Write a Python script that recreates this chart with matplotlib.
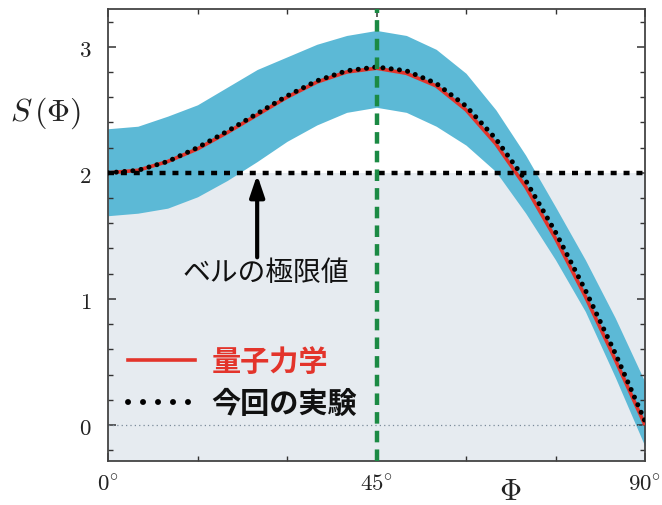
import matplotlib
matplotlib.use("Agg")
import matplotlib.pyplot as plt
from matplotlib.lines import Line2D

plt.rcParams['font.family'] = ['Noto Sans CJK JP', 'DejaVu Sans']
plt.rcParams['mathtext.fontset'] = 'cm'

# ---- data ----
phi = [0, 5, 10, 15, 20, 25, 30, 35, 40, 45, 50, 55, 60, 65, 70, 75, 80, 85, 90]
s_quantum = [2.00, 2.02, 2.09, 2.19, 2.32, 2.46, 2.60, 2.72, 2.80, 2.83, 2.79, 2.69,
             2.50, 2.23, 1.89, 1.48, 1.02, 0.52, 0.00]
s_experiment = [2.00, 2.02, 2.09, 2.20, 2.33, 2.47, 2.61, 2.73, 2.81, 2.84, 2.81, 2.71,
                2.53, 2.27, 1.94, 1.53, 1.07, 0.57, 0.03]
band_upper = [2.35, 2.37, 2.45, 2.54, 2.68, 2.82, 2.92, 3.02, 3.09, 3.13, 3.09, 2.98,
              2.79, 2.50, 2.14, 1.73, 1.31, 0.85, 0.34]
band_lower = [1.66, 1.68, 1.72, 1.81, 1.94, 2.09, 2.25, 2.38, 2.48, 2.52, 2.48, 2.37,
              2.22, 2.01, 1.68, 1.31, 0.90, 0.38, -0.17]
bell_limit = 2.0
max_angle = 45
xticks = [0, 45, 90]
xtick_labels = [r'$0^{\circ}$', r'$45^{\circ}$', r'$90^{\circ}$']
yticks = [0, 1, 2, 3]
ytick_labels = [r'$0$', r'$1$', r'$2$', r'$3$']
label_qm = '量子力学'
label_exp = '今回の実験'
bell_text = 'ベルの極限値'

# ---- styling ----
c_band = '#5cb9d6'
c_fill = '#e6ebf0'
c_red = '#e3342b'
c_green = '#1b8a44'

fig = plt.figure(figsize=(6.62, 5.06), dpi=100)
ax = fig.add_axes([108/662, 1-462/506, (645-108)/662, (462-10)/506])
ymin, ymax = -0.286, 3.30
ax.set_xlim(0, 90)
ax.set_ylim(ymin, ymax)

ax.axhspan(ymin, bell_limit, color=c_fill, zorder=0, lw=0)
ax.fill_between(phi, band_lower, band_upper, color=c_band, lw=0, zorder=1)
ax.axhline(0, color='#7a8a99', lw=0.9, ls=(0, (1, 2.5)), zorder=2)
ax.plot(phi, s_quantum, color=c_red, lw=2.6, zorder=3, solid_capstyle='butt')
ax.plot(phi, s_experiment, color='black', lw=3.6, ls=(0, (0.01, 1.65)),
        dash_capstyle='round', zorder=4)
ax.axhline(bell_limit, color='black', lw=3.2, ls=(0, (1.35, 1.55)), zorder=5)
ax.axvline(max_angle, color=c_green, lw=3.2, ls=(0, (2.6, 1.6)), zorder=6)

ax.annotate('', xy=(25, 1.985), xytext=(25, 1.33),
            arrowprops=dict(arrowstyle='-|>,head_length=0.65,head_width=0.22',
                            lw=3, color='black', mutation_scale=20, shrinkA=0, shrinkB=0),
            zorder=7)
ax.text(26.5, 1.21, bell_text, ha='center', va='center', fontsize=20, color='#111111')

handles = [Line2D([], [], color=c_red, lw=2.6),
           Line2D([], [], color='black', lw=4.3, ls=(0, (0.01, 2.5)), dash_capstyle='round')]
leg = ax.legend(handles, [label_qm, label_exp], loc='upper left',
                bbox_to_anchor=(0.038, 0.254), frameon=False, borderpad=0, borderaxespad=0,
                handlelength=2.3, handletextpad=0.55, labelspacing=0.4,
                prop={'size': 21, 'weight': 'bold'})
leg.get_texts()[0].set_color(c_red)
leg.get_texts()[1].set_color('#111111')

ax.set_xticks(xticks)
ax.set_xticklabels(xtick_labels)
ax.set_xticks([15, 30, 60, 75], minor=True)
ax.set_yticks(yticks)
ax.set_yticklabels(ytick_labels)
ax.set_yticks([-0.2, 0.2, 0.4, 0.6, 0.8, 1.2, 1.4, 1.6, 1.8, 2.2, 2.4, 2.6, 2.8, 3.2], minor=True)
ax.tick_params(which='both', direction='in', top=True, right=True, color='#333333')
ax.tick_params(which='major', length=6, width=1.1, labelsize=16.5, labelcolor='#222222')
ax.tick_params(which='minor', length=3.5, width=1.0)
ax.tick_params(axis='y', which='major', pad=12)
ax.tick_params(axis='x', which='major', pad=8)
for sp in ax.spines.values():
    sp.set_color('#444444')
    sp.set_linewidth(1.3)

ax.set_ylabel(r'$S\,(\Phi)$', rotation=0, fontsize=23, color='#222222')
ax.yaxis.set_label_coords(-0.117, 0.772)
ax.yaxis.label.set_va('center')
ax.yaxis.label.set_ha('center')
ax.set_xlabel(r'$\Phi$', fontsize=22, color='#222222')
ax.xaxis.set_label_coords(0.749, -0.066)
ax.xaxis.label.set_va('center')

fig.savefig('out.png', dpi=100)
